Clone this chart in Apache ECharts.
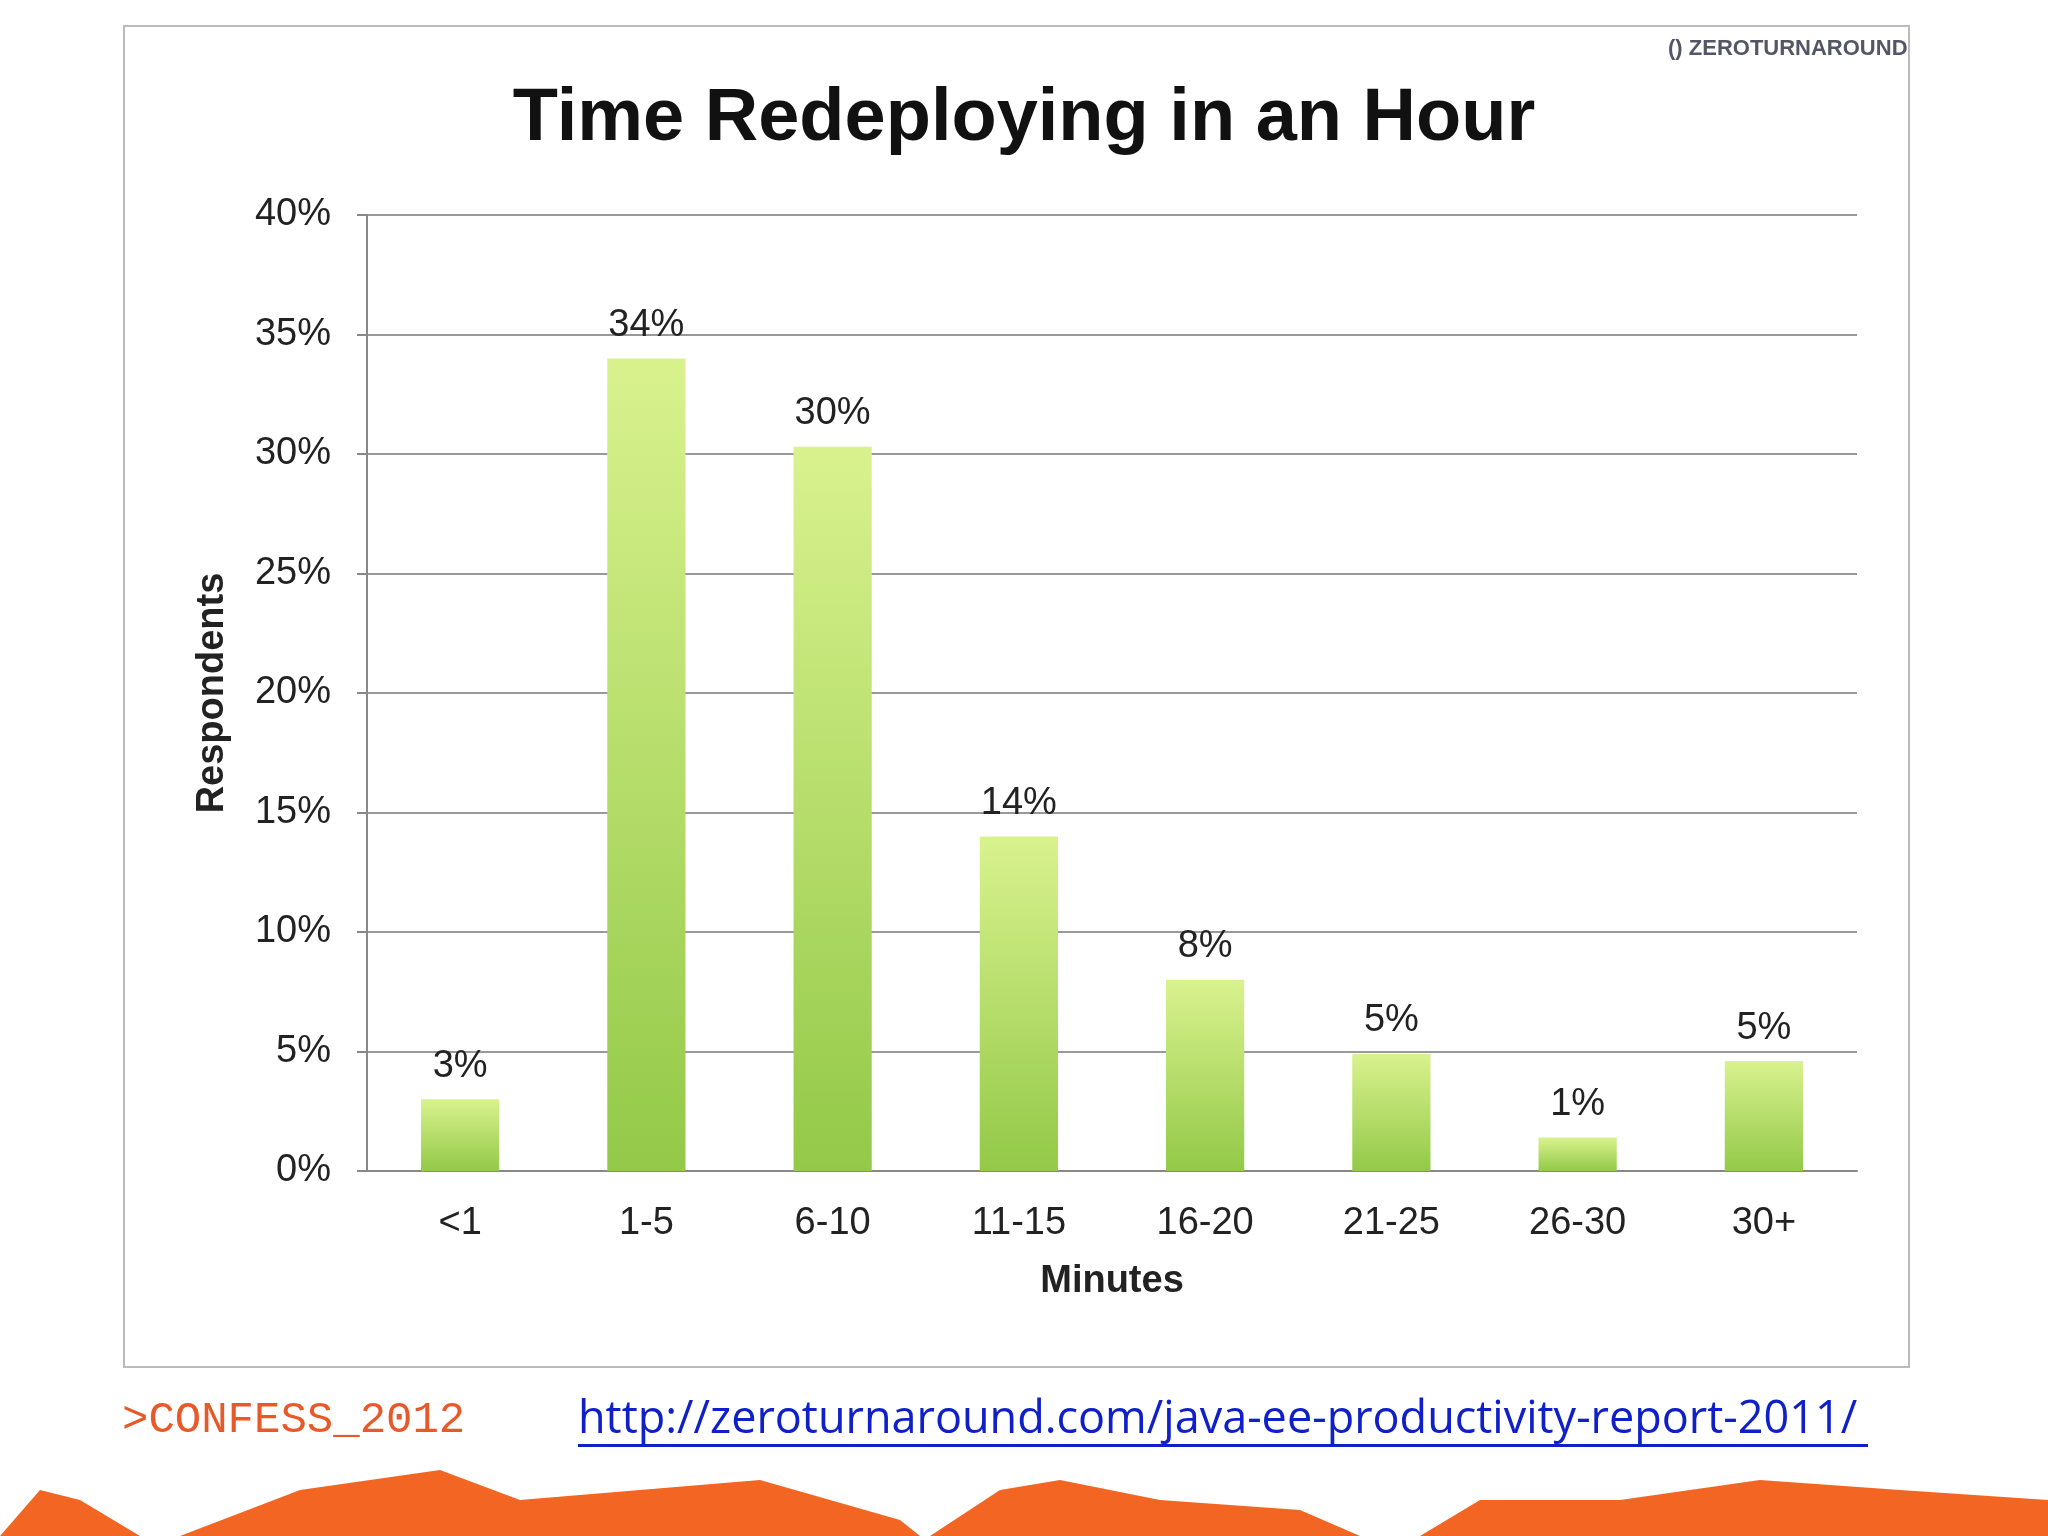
<!DOCTYPE html>
<html><head><meta charset="utf-8">
<script src="https://cdn.jsdelivr.net/npm/echarts@6/dist/echarts.min.js"></script>
<style>html,body{margin:0;padding:0;background:#fff}#c{width:2048px;height:1536px}</style>
</head><body><div id="c"></div>
<script>
const categories = ['<1','1-5','6-10','11-15','16-20','21-25','26-30','30+'];
const values = [3.0, 34.0, 30.3, 14.0, 8.0, 4.9, 1.4, 4.6];
const valueLabels = ['3%','34%','30%','14%','8%','5%','1%','5%'];
const yTicks = [0,5,10,15,20,25,30,35,40];

const chart = echarts.init(document.getElementById('c'));
const grad = new echarts.graphic.LinearGradient(0,0,0,1,[{offset:0,color:'#d9f28e'},{offset:1,color:'#93c948'}]);
chart.setOption({
  animation:false,
  title:{text:'Time Redeploying in an Hour',left:'center',top:78,
    textStyle:{fontFamily:'Liberation Sans, Arial',fontWeight:'bold',fontSize:74,color:'#111'}},
  graphic:[
    {type:'rect',shape:{x:124,y:26,width:1785,height:1341},style:{fill:'none',stroke:'#bbb',lineWidth:2},z:-1},
    {type:'text',left:1668,top:38,style:{text:'() ZEROTURNAROUND',font:'bold 22px Liberation Sans',fill:'#556'}},
    {type:'text',left:122,top:1398,style:{text:'>CONFESS_2012',font:'44px Liberation Mono',fill:'#e8592a'}},
    {type:'text',left:578,top:1398,style:{text:'http://zeroturnaround.com/java-ee-productivity-report-2011/',font:'45px Open Sans',fill:'#1020c8'}},
    {type:'rect',shape:{x:578,y:1444,width:1290,height:3},style:{fill:'#1020c8'}},
    {type:'polygon',shape:{points:[[0,1536],[40,1490],[80,1500],[140,1536]]},style:{fill:'#f26522'}},
    {type:'polygon',shape:{points:[[180,1536],[300,1490],[440,1470],[520,1500],[640,1490],[760,1480],[900,1520],[920,1536]]},style:{fill:'#f26522'}},
    {type:'polygon',shape:{points:[[930,1536],[1000,1490],[1060,1480],[1160,1500],[1300,1510],[1360,1536]]},style:{fill:'#f26522'}},
    {type:'polygon',shape:{points:[[1420,1536],[1480,1500],[1620,1500],[1760,1480],[1900,1490],[2048,1500],[2048,1536]]},style:{fill:'#f26522'}}
  ],
  grid:{left:367,right:191,top:215,bottom:365},
  xAxis:{type:'category',data:categories,name:'Minutes',nameLocation:'middle',nameGap:92,
    nameTextStyle:{fontFamily:'Liberation Sans',fontWeight:'bold',fontSize:38,color:'#222'},
    axisLine:{lineStyle:{color:'#888',width:2}},axisTick:{length:10,lineStyle:{color:'#888',width:2}},
    axisLabel:{fontFamily:'Liberation Sans',fontSize:38,color:'#222',margin:34}},
  yAxis:{type:'value',min:0,max:40,interval:5,name:'Respondents',nameLocation:'middle',nameGap:135,
    nameTextStyle:{fontFamily:'Liberation Sans',fontWeight:'bold',fontSize:38,color:'#222'},
    axisLine:{show:true,lineStyle:{color:'#888',width:2}},axisTick:{show:true,length:10,lineStyle:{color:'#888',width:2}},
    splitLine:{lineStyle:{color:'#999',width:2}},
    axisLabel:{fontFamily:'Liberation Sans',fontSize:38,color:'#222',margin:36,formatter:v=>yTicks.includes(v)?v+'%':''}},
  series:[{type:'bar',data:values,barWidth:'42%',itemStyle:{color:grad},
    label:{show:true,position:'top',distance:14,fontFamily:'Liberation Sans',fontSize:38,color:'#222',
      formatter:p=>valueLabels[p.dataIndex]}}]
});
</script></body></html>
